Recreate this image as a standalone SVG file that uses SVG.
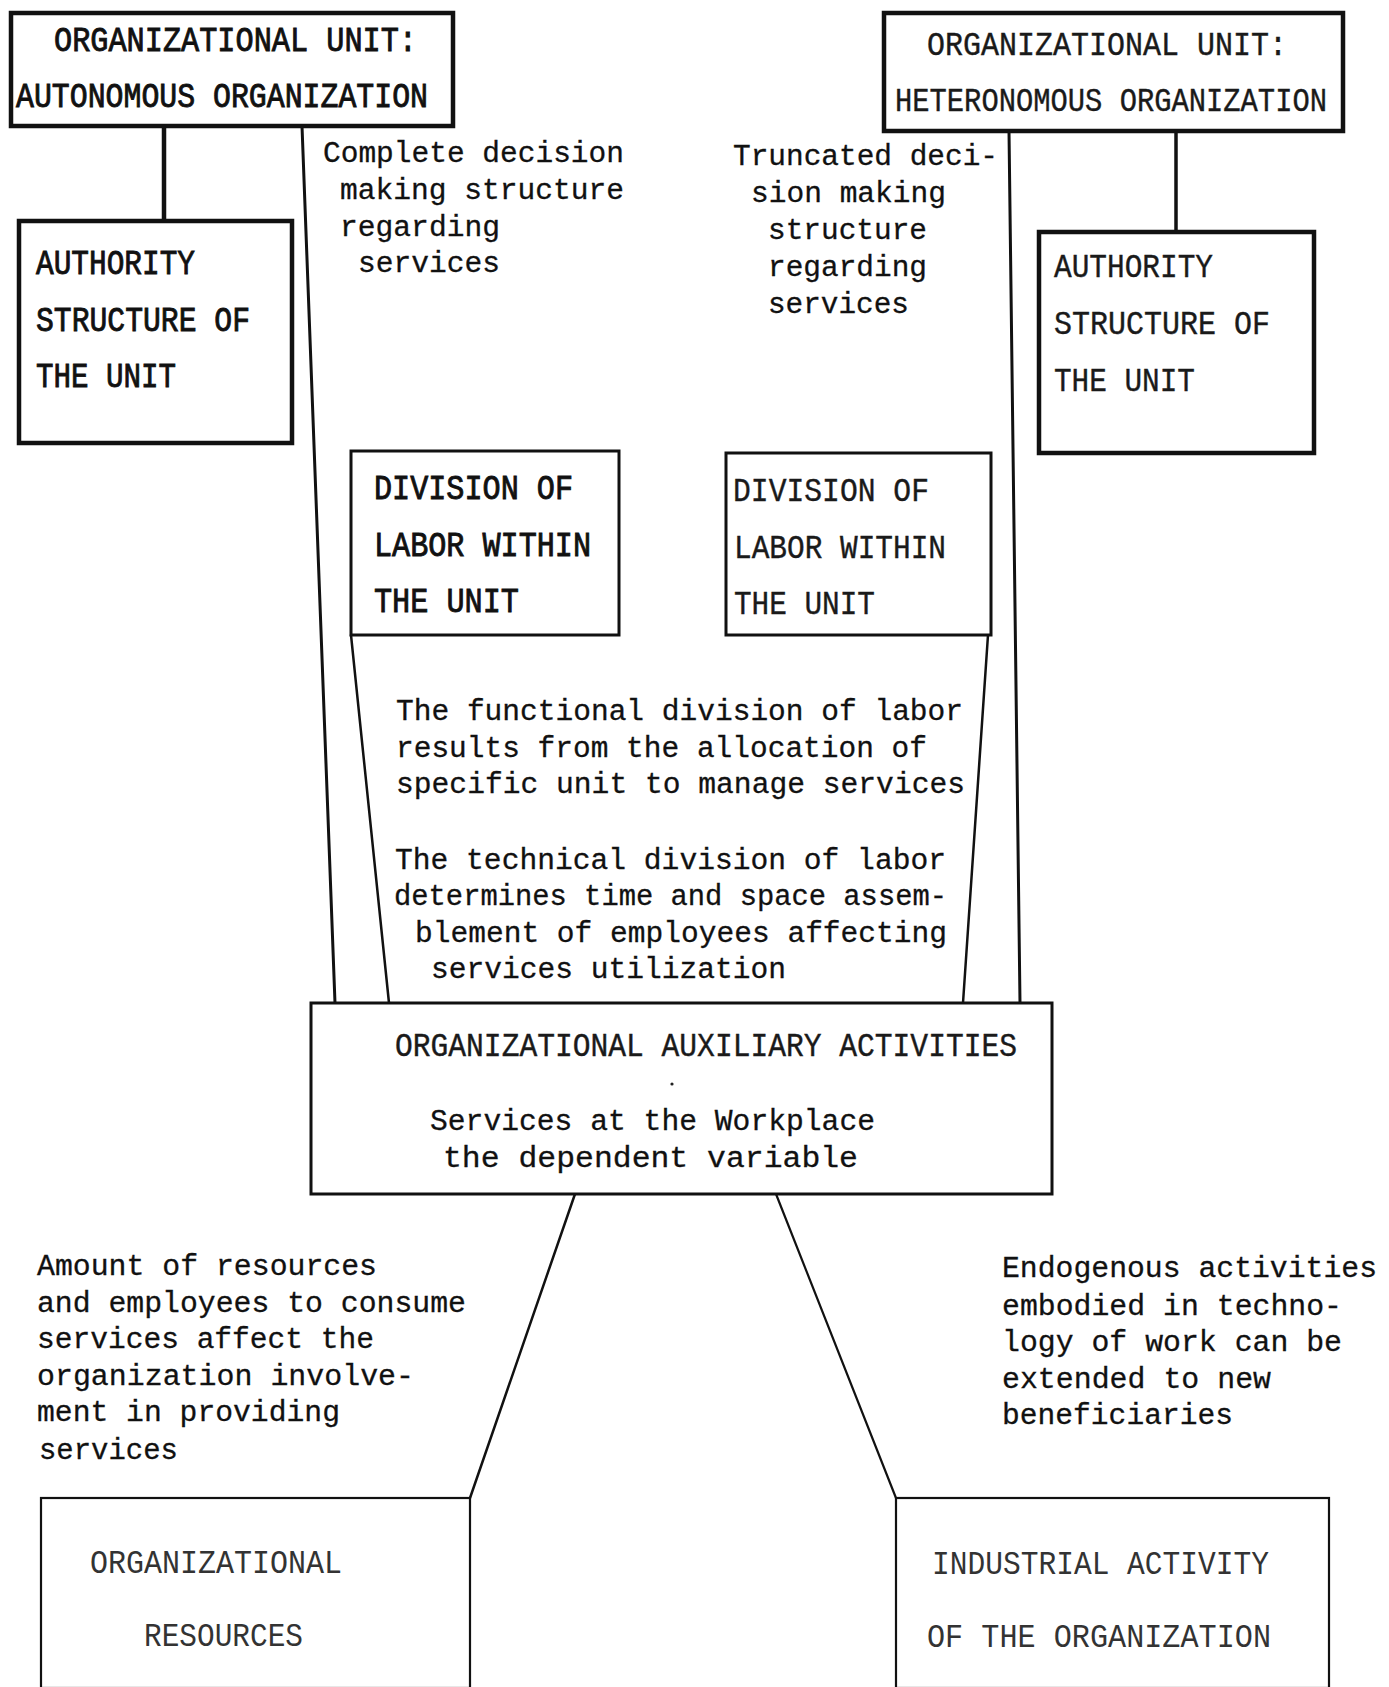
<svg xmlns="http://www.w3.org/2000/svg" width="1389" height="1687" viewBox="0 0 1389 1687">
  <style>
    .box { fill: #fff; stroke: #111; }
    .heavy { stroke-width: 4.5; }
    .mid { stroke-width: 3; }
    .light { stroke-width: 2.2; }
    .link { stroke: #111; fill: none; stroke-linecap: round; }
    .caps { font-family: "Liberation Mono", "DejaVu Sans Mono", monospace; font-size: 35px; fill: #111; stroke: #111; stroke-width: 0.9; }
    .capsl { font-family: "Liberation Mono", "DejaVu Sans Mono", monospace; font-size: 34px; fill: #1a1a1a; stroke: #1a1a1a; stroke-width: 0.4; }
    .faint { font-family: "Liberation Mono", "DejaVu Sans Mono", monospace; font-size: 33px; fill: #333; }
    .body { font-family: "Liberation Mono", "DejaVu Sans Mono", monospace; font-size: 29px; fill: #111; stroke: #111; stroke-width: 0.3; }
    .speck { fill: #222; }
  </style>
  <rect width="1389" height="1687" fill="#fff"/>

  <!-- connectors -->
  <g id="connectors">
    <line class="link" x1="164" y1="126" x2="164" y2="221" stroke-width="4.5"/>
    <line class="link" x1="302" y1="126" x2="335" y2="1003" stroke-width="3"/>
    <line class="link" x1="351" y1="635" x2="389" y2="1003" stroke-width="2.5"/>
    <line class="link" x1="988" y1="635" x2="963" y2="1003" stroke-width="2.5"/>
    <line class="link" x1="1009" y1="131" x2="1020" y2="1003" stroke-width="3"/>
    <line class="link" x1="1176" y1="131" x2="1176" y2="231" stroke-width="3.5"/>
    <line class="link" x1="575" y1="1194" x2="470" y2="1498" stroke-width="2.5"/>
    <line class="link" x1="776" y1="1194" x2="896" y2="1498" stroke-width="2.2"/>
  </g>

  <!-- top left: autonomous organization -->
  <g id="unit-autonomous">
    <rect class="box heavy" x="11" y="13" width="442" height="113"/>
    <text class="caps" x="54" y="51" textLength="363" lengthAdjust="spacingAndGlyphs">ORGANIZATIONAL UNIT:</text>
    <text class="caps" x="16" y="107" textLength="412" lengthAdjust="spacingAndGlyphs">AUTONOMOUS ORGANIZATION</text>
  </g>

  <g id="authority-left">
    <rect class="box heavy" x="19" y="221" width="273" height="222"/>
    <text class="caps" x="36" y="274" textLength="159" lengthAdjust="spacingAndGlyphs">AUTHORITY</text>
    <text class="caps" x="36" y="331" textLength="214" lengthAdjust="spacingAndGlyphs">STRUCTURE OF</text>
    <text class="caps" x="36" y="387" textLength="140" lengthAdjust="spacingAndGlyphs">THE UNIT</text>
  </g>

  <!-- top right: heteronomous organization -->
  <g id="unit-heteronomous">
    <rect class="box heavy" x="884" y="13" width="459" height="118"/>
    <text class="capsl" x="927" y="55" textLength="360" lengthAdjust="spacingAndGlyphs">ORGANIZATIONAL UNIT:</text>
    <text class="capsl" x="895" y="111" font-size="29" textLength="432" lengthAdjust="spacingAndGlyphs">HETERONOMOUS ORGANIZATION</text>
  </g>

  <g id="authority-right">
    <rect class="box heavy" x="1039" y="232" width="275" height="221"/>
    <text class="capsl" x="1054" y="277" textLength="159" lengthAdjust="spacingAndGlyphs">AUTHORITY</text>
    <text class="capsl" x="1054" y="334" textLength="216" lengthAdjust="spacingAndGlyphs">STRUCTURE OF</text>
    <text class="capsl" x="1054" y="391" textLength="141" lengthAdjust="spacingAndGlyphs">THE UNIT</text>
  </g>

  <!-- division of labor boxes -->
  <g id="division-left">
    <rect class="box mid" x="351" y="451" width="268" height="184"/>
    <text class="caps" x="374" y="499" textLength="199" lengthAdjust="spacingAndGlyphs">DIVISION OF</text>
    <text class="caps" x="374" y="556" textLength="217" lengthAdjust="spacingAndGlyphs">LABOR WITHIN</text>
    <text class="caps" x="374" y="612" textLength="145" lengthAdjust="spacingAndGlyphs">THE UNIT</text>
  </g>

  <g id="division-right">
    <rect class="box mid" x="726" y="453" width="265" height="182"/>
    <text class="capsl" x="733" y="501" textLength="196" lengthAdjust="spacingAndGlyphs">DIVISION OF</text>
    <text class="capsl" x="734" y="558" textLength="212" lengthAdjust="spacingAndGlyphs">LABOR WITHIN</text>
    <text class="capsl" x="734" y="614" textLength="141" lengthAdjust="spacingAndGlyphs">THE UNIT</text>
  </g>

  <!-- central dependent variable -->
  <g id="auxiliary-activities">
    <rect class="box mid" x="311" y="1003" width="741" height="191"/>
    <text class="capsl" x="395" y="1056" textLength="622" lengthAdjust="spacingAndGlyphs">ORGANIZATIONAL AUXILIARY ACTIVITIES</text>
    <circle class="speck" cx="672" cy="1084" r="1.6"/>
    <text class="body" x="430" y="1130" textLength="445" lengthAdjust="spacingAndGlyphs">Services at the Workplace</text>
    <text class="body" x="443" y="1167" textLength="415" lengthAdjust="spacingAndGlyphs">the dependent variable</text>
  </g>

  <!-- bottom boxes -->
  <g id="org-resources">
    <rect class="box light" x="41" y="1498" width="429" height="190"/>
    <text class="faint" x="90" y="1573" textLength="252" lengthAdjust="spacingAndGlyphs">ORGANIZATIONAL</text>
    <text class="faint" x="144" y="1646" textLength="159" lengthAdjust="spacingAndGlyphs">RESOURCES</text>
  </g>

  <g id="industrial-activity">
    <rect class="box light" x="896" y="1498" width="433" height="190"/>
    <text class="faint" x="932" y="1574" textLength="337" lengthAdjust="spacingAndGlyphs">INDUSTRIAL ACTIVITY</text>
    <text class="faint" x="927" y="1647" textLength="344" lengthAdjust="spacingAndGlyphs">OF THE ORGANIZATION</text>
  </g>

  <!-- connector labels -->
  <g id="labels">
    <text class="body" x="323" y="162" textLength="301" lengthAdjust="spacingAndGlyphs">Complete decision</text>
    <text class="body" x="340" y="199" textLength="284" lengthAdjust="spacingAndGlyphs">making structure</text>
    <text class="body" x="340" y="236" textLength="160" lengthAdjust="spacingAndGlyphs">regarding</text>
    <text class="body" x="358" y="272" textLength="142" lengthAdjust="spacingAndGlyphs">services</text>

    <text class="body" x="733" y="165" textLength="265" lengthAdjust="spacingAndGlyphs">Truncated deci-</text>
    <text class="body" x="751" y="202" textLength="195" lengthAdjust="spacingAndGlyphs">sion making</text>
    <text class="body" x="768" y="239" textLength="159" lengthAdjust="spacingAndGlyphs">structure</text>
    <text class="body" x="768" y="276" textLength="159" lengthAdjust="spacingAndGlyphs">regarding</text>
    <text class="body" x="768" y="313" textLength="141" lengthAdjust="spacingAndGlyphs">services</text>

    <text class="body" x="396" y="720" textLength="567" lengthAdjust="spacingAndGlyphs">The functional division of labor</text>
    <text class="body" x="396" y="757" textLength="531" lengthAdjust="spacingAndGlyphs">results from the allocation of</text>
    <text class="body" x="396" y="793" textLength="569" lengthAdjust="spacingAndGlyphs">specific unit to manage services</text>
    <text class="body" x="395" y="869" textLength="551" lengthAdjust="spacingAndGlyphs">The technical division of labor</text>
    <text class="body" x="394" y="905" textLength="553" lengthAdjust="spacingAndGlyphs">determines time and space assem-</text>
    <text class="body" x="415" y="942" textLength="532" lengthAdjust="spacingAndGlyphs">blement of employees affecting</text>
    <text class="body" x="431" y="978" textLength="355" lengthAdjust="spacingAndGlyphs">services utilization</text>

    <text class="body" x="37" y="1275" textLength="340" lengthAdjust="spacingAndGlyphs">Amount of resources</text>
    <text class="body" x="37" y="1312" textLength="429" lengthAdjust="spacingAndGlyphs">and employees to consume</text>
    <text class="body" x="37" y="1348" textLength="337" lengthAdjust="spacingAndGlyphs">services affect the</text>
    <text class="body" x="37" y="1385" textLength="377" lengthAdjust="spacingAndGlyphs">organization involve-</text>
    <text class="body" x="37" y="1421" textLength="303" lengthAdjust="spacingAndGlyphs">ment in providing</text>
    <text class="body" x="39" y="1459" textLength="139" lengthAdjust="spacingAndGlyphs">services</text>

    <text class="body" x="1002" y="1277" textLength="375" lengthAdjust="spacingAndGlyphs">Endogenous activities</text>
    <text class="body" x="1002" y="1315" textLength="340" lengthAdjust="spacingAndGlyphs">embodied in techno-</text>
    <text class="body" x="1002" y="1351" textLength="340" lengthAdjust="spacingAndGlyphs">logy of work can be</text>
    <text class="body" x="1002" y="1388" textLength="269" lengthAdjust="spacingAndGlyphs">extended to new</text>
    <text class="body" x="1002" y="1424" textLength="231" lengthAdjust="spacingAndGlyphs">beneficiaries</text>
  </g>
</svg>
